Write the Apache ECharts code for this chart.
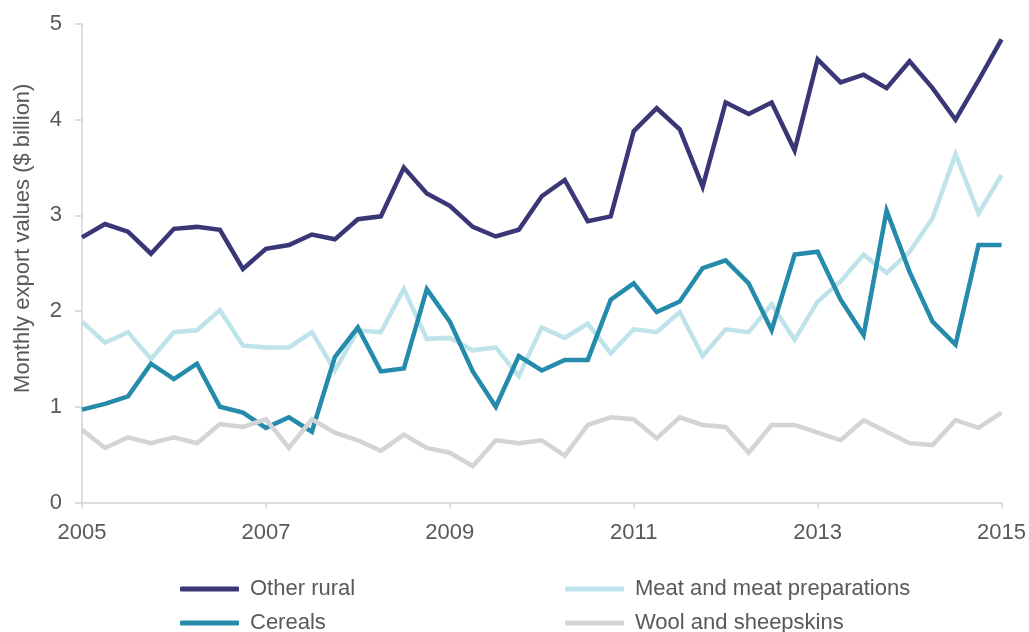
<!DOCTYPE html>
<html>
<head>
<meta charset="utf-8">
<script src="https://cdn.jsdelivr.net/npm/echarts@6/dist/echarts.min.js"></script>
<style>
  html, body { margin: 0; padding: 0; background: #fff; }
  #chart { width: 1029px; height: 632px; }
</style>
</head>
<body>
<div id="chart"></div>
<script>
// quarterly points, 2005 Q1 .. 2015 Q1
var quarters = [
    '2005 Q1', '2005 Q2', '2005 Q3', '2005 Q4', '2006 Q1', '2006 Q2', '2006 Q3', '2006 Q4',
    '2007 Q1', '2007 Q2', '2007 Q3', '2007 Q4', '2008 Q1', '2008 Q2', '2008 Q3', '2008 Q4',
    '2009 Q1', '2009 Q2', '2009 Q3', '2009 Q4', '2010 Q1', '2010 Q2', '2010 Q3', '2010 Q4',
    '2011 Q1', '2011 Q2', '2011 Q3', '2011 Q4', '2012 Q1', '2012 Q2', '2012 Q3', '2012 Q4',
    '2013 Q1', '2013 Q2', '2013 Q3', '2013 Q4', '2014 Q1', '2014 Q2', '2014 Q3', '2014 Q4',
    '2015 Q1'
];

var otherRural = [
    2.77, 2.91, 2.83, 2.60, 2.86, 2.88, 2.85, 2.44, 2.65, 2.69,
    2.80, 2.75, 2.96, 2.99, 3.50, 3.23, 3.10, 2.88, 2.78, 2.85,
    3.20, 3.37, 2.94, 2.99, 3.88, 4.12, 3.90, 3.30, 4.18, 4.06,
    4.18, 3.68, 4.63, 4.39, 4.47, 4.33, 4.61, 4.33, 4.00, 4.41,
    4.84
];
var meat = [
    1.89, 1.67, 1.78, 1.50, 1.78, 1.80, 2.01, 1.64, 1.62, 1.62,
    1.78, 1.38, 1.80, 1.78, 2.23, 1.71, 1.72, 1.59, 1.62, 1.32,
    1.83, 1.72, 1.87, 1.56, 1.81, 1.78, 1.99, 1.53, 1.81, 1.78,
    2.07, 1.70, 2.10, 2.31, 2.59, 2.40, 2.62, 2.97, 3.64, 3.02,
    3.42
];
var cereals = [
    0.97, 1.03, 1.11, 1.45, 1.29, 1.45, 1.00, 0.94, 0.78, 0.89,
    0.74, 1.52, 1.83, 1.37, 1.40, 2.23, 1.89, 1.37, 1.00, 1.53,
    1.38, 1.49, 1.49, 2.12, 2.29, 1.99, 2.10, 2.45, 2.53, 2.29,
    1.80, 2.59, 2.62, 2.12, 1.75, 3.05, 2.41, 1.89, 1.65, 2.69,
    2.69
];
var wool = [
    0.76, 0.57, 0.68, 0.62, 0.68, 0.62, 0.82, 0.79, 0.87, 0.57,
    0.87, 0.73, 0.65, 0.54, 0.71, 0.57, 0.52, 0.38, 0.65, 0.62,
    0.65, 0.49, 0.81, 0.89, 0.87, 0.67, 0.89, 0.81, 0.79, 0.52,
    0.81, 0.81, 0.73, 0.65, 0.86, 0.74, 0.62, 0.60, 0.86, 0.78,
    0.94
];

var seriesNames = ['Other rural', 'Meat and meat preparations', 'Cereals', 'Wool and sheepskins'];
var seriesColors = ['#393776', '#bfe3ea', '#258bab', '#d4d4d4'];
var seriesData = [otherRural, meat, cereals, wool];

var font = "'Liberation Sans', Arial, sans-serif";
var textColor = '#595959';
var axisColor = '#d3d3d3';

var chart = echarts.init(document.getElementById('chart'));

var series = [];
for (var i = 0; i < seriesNames.length; i++) {
    series.push({
        name: seriesNames[i],
        type: 'line',
        data: seriesData[i],
        symbol: 'none',
        color: seriesColors[i],
        lineStyle: { width: 4.5, color: seriesColors[i], join: 'miter' },
        animation: false
    });
}

// one legend per entry, laid out as a 2x2 block
function legendFor(name, left, top) {
    return {
        left: left,
        top: top,
        padding: 0,
        data: [name],
        icon: 'roundRect',
        itemWidth: 59,
        itemHeight: 5,
        selectedMode: false,
        textStyle: {
            fontFamily: font,
            fontSize: 22,
            lineHeight: 22,
            color: textColor,
            padding: [0, 0, 0, 6]
        }
    };
}

chart.setOption({
    backgroundColor: '#fff',
    animation: false,
    grid: { left: 82, right: 27, top: 24, bottom: 129.5 },
    legend: [
        legendFor('Other rural', 180, 578),
        legendFor('Cereals', 180, 612),
        legendFor('Meat and meat preparations', 565, 578),
        legendFor('Wool and sheepskins', 565, 612)
    ],
    xAxis: {
        type: 'category',
        data: quarters,
        boundaryGap: false,
        axisLine: { lineStyle: { color: axisColor, width: 1.5 } },
        axisTick: { interval: 7, length: 6, lineStyle: { color: axisColor, width: 1.5 } },
        axisLabel: {
            interval: 7,
            margin: 19,
            fontFamily: font,
            fontSize: 22,
            color: textColor,
            formatter: function (v) { return v.slice(0, 4); }
        },
        splitLine: { show: false }
    },
    yAxis: {
        type: 'value',
        min: 0,
        max: 5,
        interval: 1,
        name: 'Monthly export values ($ billion)',
        nameLocation: 'middle',
        nameGap: 48,
        nameTextStyle: {
            fontFamily: font,
            fontSize: 22,
            color: textColor,
            padding: [0, 0, 0, 50]
        },
        axisLine: { show: true, lineStyle: { color: axisColor, width: 1.5 } },
        axisTick: { show: true, length: 7, lineStyle: { color: axisColor, width: 1.5 } },
        axisLabel: {
            margin: 20,
            fontFamily: font,
            fontSize: 22,
            color: textColor
        },
        splitLine: { show: false }
    },
    series: series
});
</script>
</body>
</html>
